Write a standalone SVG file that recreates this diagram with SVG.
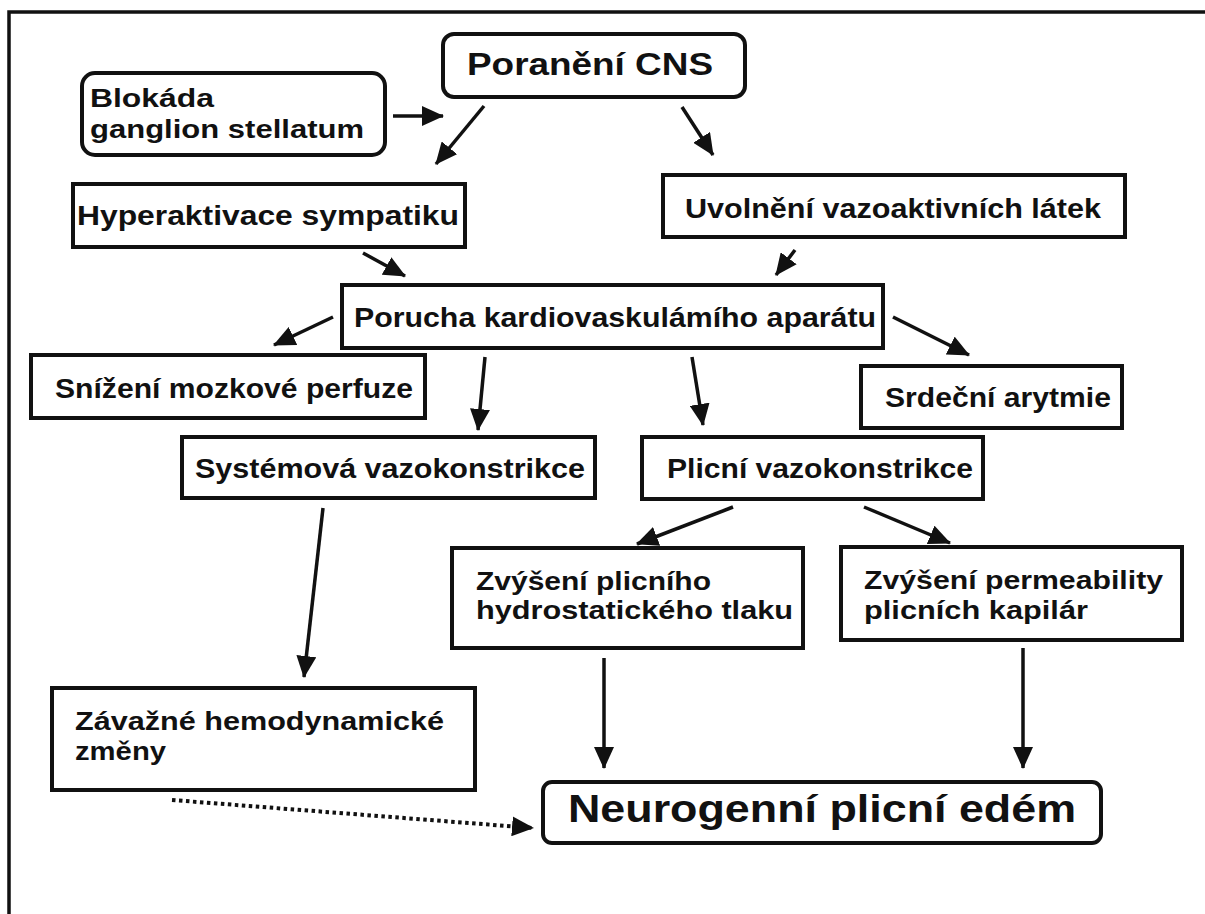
<svg xmlns="http://www.w3.org/2000/svg" width="1205" height="914" viewBox="0 0 1205 914">
<style>
.box{fill:#fff;stroke:#111;stroke-width:4}
.t{font-family:"Liberation Sans",Arial,sans-serif;font-weight:bold;fill:#111}
.s28{font-size:28px}
.s25{font-size:25px}
.conn line{stroke:#111;stroke-width:3.5;marker-end:url(#ah)}
.dot{stroke-dasharray:3.5 3.5;stroke-width:4 !important}
</style>
<defs>
<marker id="ah" markerUnits="userSpaceOnUse" markerWidth="22" markerHeight="20" refX="21" refY="10" orient="auto" viewBox="0 0 22 20">
<path d="M0,0 L22,10 L0,20 z" fill="#111"/>
</marker>
</defs>
<rect width="1205" height="914" fill="#fff"/>
<path d="M9,914 L9,12 L1205,12" fill="none" stroke="#111" stroke-width="3.5"/>

<g id="n-poraneni">
<rect class="box" x="443" y="34" width="302" height="63" rx="11"/>
<text class="t" x="467" y="75" font-size="31" textLength="246" lengthAdjust="spacingAndGlyphs">Poranění CNS</text>
</g>
<g id="n-blokada">
<rect class="box" x="82" y="73" width="303" height="82" rx="13"/>
<text class="t s25" x="90" y="107" textLength="124" lengthAdjust="spacingAndGlyphs">Blokáda</text>
<text class="t s25" x="90" y="138" textLength="274" lengthAdjust="spacingAndGlyphs">ganglion stellatum</text>
</g>
<g id="n-hyper">
<rect class="box" x="73" y="184" width="392" height="63"/>
<text class="t s28" x="77" y="225" textLength="382" lengthAdjust="spacingAndGlyphs">Hyperaktivace sympatiku</text>
</g>
<g id="n-uvolneni">
<rect class="box" x="663" y="175" width="462" height="62"/>
<text class="t s28" x="685" y="218" textLength="416" lengthAdjust="spacingAndGlyphs">Uvolnění vazoaktivních látek</text>
</g>
<g id="n-porucha">
<rect class="box" x="342" y="285" width="541" height="63"/>
<text class="t s28" x="354" y="327" textLength="522" lengthAdjust="spacingAndGlyphs">Porucha kardiovaskulámího aparátu</text>
</g>
<g id="n-snizeni">
<rect class="box" x="31" y="355" width="394" height="63"/>
<text class="t s28" x="55" y="398" textLength="358" lengthAdjust="spacingAndGlyphs">Snížení mozkové perfuze</text>
</g>
<g id="n-srdecni">
<rect class="box" x="861" y="366" width="261" height="62"/>
<text class="t s28" x="885" y="407" textLength="226" lengthAdjust="spacingAndGlyphs">Srdeční arytmie</text>
</g>
<g id="n-systemova">
<rect class="box" x="182" y="437" width="413" height="61"/>
<text class="t s28" x="195" y="478" textLength="390" lengthAdjust="spacingAndGlyphs">Systémová vazokonstrikce</text>
</g>
<g id="n-plicni">
<rect class="box" x="642" y="437" width="341" height="62"/>
<text class="t s28" x="667" y="478" textLength="306" lengthAdjust="spacingAndGlyphs">Plicní vazokonstrikce</text>
</g>
<g id="n-hydro">
<rect class="box" x="452" y="548" width="351" height="100"/>
<text class="t s25" x="476" y="590" textLength="235" lengthAdjust="spacingAndGlyphs">Zvýšení plicního</text>
<text class="t s25" x="476" y="619" textLength="317" lengthAdjust="spacingAndGlyphs">hydrostatického tlaku</text>
</g>
<g id="n-perm">
<rect class="box" x="841" y="547" width="341" height="93"/>
<text class="t s25" x="864" y="589" textLength="299" lengthAdjust="spacingAndGlyphs">Zvýšení permeability</text>
<text class="t s25" x="864" y="619" textLength="224" lengthAdjust="spacingAndGlyphs">plicních kapilár</text>
</g>
<g id="n-zavazne">
<rect class="box" x="52" y="688" width="423" height="102"/>
<text class="t s25" x="75" y="730" textLength="369" lengthAdjust="spacingAndGlyphs">Závažné hemodynamické</text>
<text class="t s25" x="75" y="760" textLength="91" lengthAdjust="spacingAndGlyphs">změny</text>
</g>
<g id="n-edem">
<rect class="box" x="543" y="782" width="558" height="61" rx="9"/>
<text class="t" x="568" y="822" font-size="38" textLength="508" lengthAdjust="spacingAndGlyphs">Neurogenní plicní edém</text>
</g>

<g id="connectors" class="conn">
<line x1="393" y1="116" x2="443" y2="116"/>
<line x1="484" y1="106" x2="436" y2="164"/>
<line x1="682" y1="107" x2="713" y2="155"/>
<line x1="363" y1="253" x2="405" y2="276"/>
<line x1="795" y1="250" x2="776" y2="275"/>
<line x1="333" y1="317" x2="274" y2="345"/>
<line x1="893" y1="317" x2="969" y2="355"/>
<line x1="485" y1="357" x2="478" y2="430"/>
<line x1="692" y1="357" x2="703" y2="425"/>
<line x1="733" y1="507" x2="637" y2="544"/>
<line x1="864" y1="507" x2="950" y2="543"/>
<line x1="323" y1="508" x2="304" y2="677"/>
<line x1="604" y1="658" x2="604" y2="768"/>
<line x1="1023" y1="648" x2="1023" y2="768"/>
<line class="dot" x1="172" y1="800" x2="533" y2="828"/>
</g>
</svg>
